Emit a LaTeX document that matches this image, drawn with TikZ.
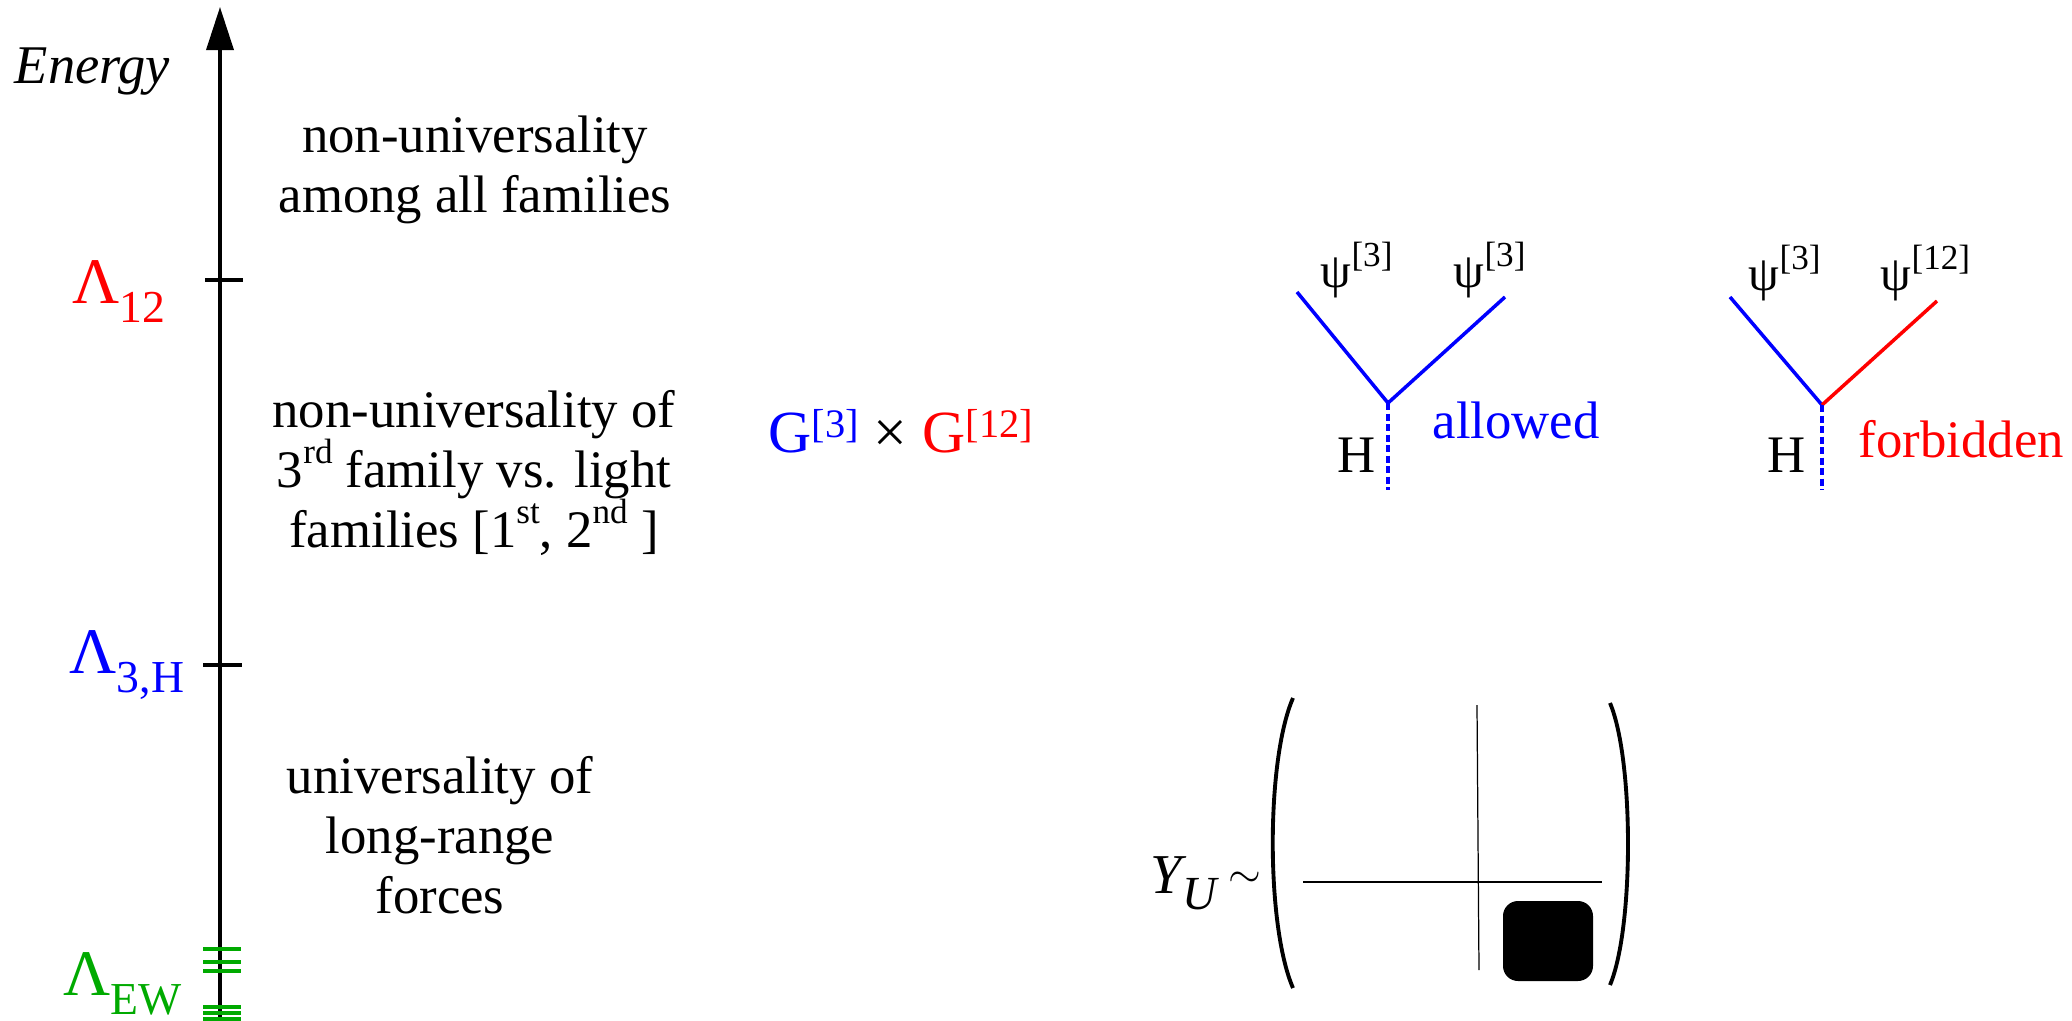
\documentclass[tikz,border=0pt]{standalone}
\usepackage{fontspec}
\setmainfont{Liberation Serif}
\usetikzlibrary{arrows.meta}
\definecolor{ewgreen}{RGB}{0,170,0}
% lowered / raised small text
\newcommand{\lowsub}[2]{\raisebox{-0.3em}{\fontsize{#1}{#1}\selectfont #2}}
\newcommand{\upsup}[3]{\raisebox{#2}{\fontsize{#1}{#1}\selectfont #3}}

\begin{document}
\begin{tikzpicture}[
    x=0.01cm, y=-0.01cm,
    >=Triangle,
    axisline/.style={line width=1pt, -{Triangle[width=0.27cm, length=0.43cm]}},
    scaletick/.style={line width=1pt},
    ewtick/.style={ewgreen, line width=1pt},
    region/.style={font=\fontsize{15}{17}\selectfont, align=center, inner sep=0pt, anchor=base},
    lam/.style={font=\fontsize{18.5}{20}\selectfont, inner sep=0pt, anchor=base west},
    leg/.style={line width=1pt},
    higgs/.style={blue, line width=1pt, dash pattern=on 0.07cm off 0.035cm},
    field/.style={font=\fontsize{14}{15}\selectfont, inner sep=0pt, anchor=base west},
    tag/.style={font=\fontsize{15}{17}\selectfont, inner sep=0pt, anchor=base west}
  ]
    \useasboundingbox (0,0) rectangle (2072,1021);

    % energy axis
    \coordinate (axbot) at (220,1021);
    \coordinate (axtop) at (220,7);
    \draw[axisline] (axbot) -- (axtop);
    \node[inner sep=0pt, anchor=base west, font=\fontsize{15.5}{17}\selectfont\itshape] (energy) at (14,83) {Energy};

    \coordinate (t12a) at (205,280);
    \coordinate (t12b) at (243,280);
    \draw[scaletick] (t12a) -- (t12b);
    \coordinate (t3a) at (203,665);
    \coordinate (t3b) at (242,665);
    \draw[scaletick] (t3a) -- (t3b);
    \foreach \yy in {949,962,971,1007,1013,1019}
      \draw[ewtick] (203,\yy) -- (241,\yy);

    \node[lam, red] (lam12) at (72,303) {Λ\lowsub{13}{12}};
    \node[lam, blue] (lam3h) at (69,673) {Λ\lowsub{13}{3,H}};
    \node[lam, ewgreen] (lamew) at (63,995) {Λ\lowsub{13}{EW}};

    % regions (anchor at last baseline)
    \node[region] (top) at (475,212) {non-universality\\among all families};
    \node[region] (mid) at (474,547) {non-universality of\\3\upsup{10}{0.45em}{rd} family vs. light\\families [1\upsup{10}{0.45em}{st}, 2\upsup{10}{0.45em}{nd} ]};
    \node[region] (low) at (440,913) {universality of\\long-range\\forces};

    % group
    \node[inner sep=0pt, anchor=base west, font=\fontsize{17}{18}\selectfont] (group) at (768,452)
      {\textcolor{blue}{G\upsup{11.5}{0.24em}{[3]}} × \textcolor{red}{G\upsup{11.5}{0.24em}{[12]}}};

    % allowed vertex
    \coordinate (va) at (1388,403);
    \coordinate (la) at (1297,292);
    \coordinate (ra) at (1505,297);
    \coordinate (ha) at (1388,490);
    \draw[leg, blue] (la) -- (va) -- (ra);
    \draw[higgs] (va) -- (ha);
    \node[field] (psila) at (1320,287) {ψ\upsup{10}{0.42em}{[3]}};
    \node[field] (psira) at (1453,287) {ψ\upsup{10}{0.42em}{[3]}};
    \node[tag] (hia) at (1337,472) {H};
    \node[tag, blue] (ok) at (1432,438) {allowed};

    % forbidden vertex
    \coordinate (vf) at (1822,405);
    \coordinate (lf) at (1730,297);
    \coordinate (rf) at (1937,301);
    \coordinate (hf) at (1822,490);
    \draw[leg, blue] (lf) -- (vf);
    \draw[leg, red] (vf) -- (rf);
    \draw[higgs] (vf) -- (hf);
    \node[field] (psilf) at (1748,290) {ψ\upsup{10}{0.42em}{[3]}};
    \node[field] (psirf) at (1880,290) {ψ\upsup{10}{0.42em}{[12]}};
    \node[tag] (hif) at (1767,472) {H};
    \node[tag, red] (no) at (1858,457) {forbidden};

    % Yukawa texture
    \node[inner sep=0pt, anchor=base west, font=\fontsize{16}{17}\selectfont] (yu) at (1150,893)
      {\itshape Y\lowsub{13.5}{U}\hspace{0.12cm}\raisebox{0.1em}{\fontsize{12}{12}\selectfont$\sim$}};
    \draw[line width=1.1pt] (1293,698) .. controls (1266,760) and (1266,926) .. (1293,988);
    \draw[line width=1.1pt] (1610,703) .. controls (1634,760) and (1634,928) .. (1610,985);
    \draw[line width=0.35pt] (1303,882) -- (1602,882);
    \draw[line width=0.35pt] (1477,705) -- (1479,970);
    \fill[rounded corners=0.15cm] (1503,901) rectangle (1593,981);
  \end{tikzpicture}
\end{document}
